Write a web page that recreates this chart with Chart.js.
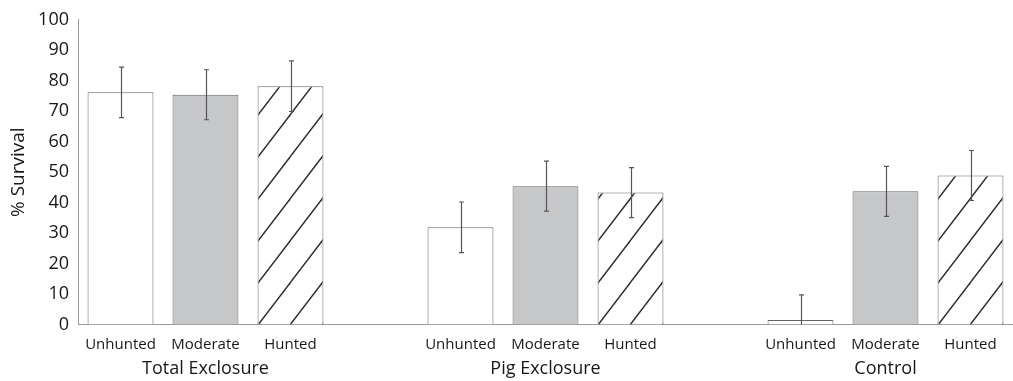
<!DOCTYPE html>
<html><head><meta charset="utf-8">
<script src="https://cdn.jsdelivr.net/npm/chart.js@4.4.0/dist/chart.umd.min.js"></script>
<style>html,body{margin:0;padding:0;background:#fff;overflow:hidden}</style>
</head><body>
<canvas id="c" width="1013" height="381"></canvas>
<script>
// ---- data ----
const categories = ['Unhunted','Moderate','Hunted','','Unhunted','Moderate','Hunted','','Unhunted','Moderate','Hunted'];
const groupLabels = ['','Total Exclosure','','','','Pig Exclosure','','','','Control',''];
const treatments = ['unhunted','moderate','hunted',null,'unhunted','moderate','hunted',null,'unhunted','moderate','hunted'];
const survival = [76.2, 75.4, 78.2, null, 31.9, 45.4, 43.3, null, 1.5, 43.7, 48.9];
const errors   = [8.3, 8.2, 8.3, null, 8.3, 8.2, 8.2, null, 8.2, 8.2, 8.2];
const yTicks = [0,10,20,30,40,50,60,70,80,90,100];

// ---- styles ----
const TEXT = '#1a1718';
const AXIS = '#9a9a9a';
const EDGE = '#666666';
const BAR_PCT = 0.775;
const HW = 32, HH = 42;
const hatchTile = (() => {
  const c = document.createElement('canvas');
  c.width = HW; c.height = HH;
  const g = c.getContext('2d');
  g.fillStyle = '#ffffff'; g.fillRect(0,0,HW,HH);
  g.strokeStyle = '#2a2a2a'; g.lineWidth = 1.4;
  for (const dx of [-HW, 0, HW]) {
    g.beginPath(); g.moveTo(dx - 1, HH + HH/HW); g.lineTo(dx + HW + 1, -HH/HW); g.stroke();
  }
  return c;
})();
function hatchFor(ctx){
  const chart = ctx.chart, xs = chart.scales.x, ys = chart.scales.y;
  const p = chart.ctx.createPattern(hatchTile, 'repeat');
  if (xs && ys && xs.right > xs.left) {
    const slot = (xs.right - xs.left) / categories.length;
    const left = Math.round(xs.getPixelForValue(ctx.dataIndex) - slot * BAR_PCT / 2);
    const bottom = Math.round(ys.getPixelForValue(0));
    p.setTransform(new DOMMatrix().translate(left, bottom));
  }
  return p;
}
const fills = {unhunted:'#ffffff', moderate:'#c6c7c9'};

Chart.defaults.font.family = "'Open Sans', sans-serif";
Chart.defaults.color = TEXT;

const errorBars = {
  id:'errorBars',
  afterDatasetsDraw(chart){
    const ctx = chart.ctx, y = chart.scales.y;
    const meta = chart.getDatasetMeta(0);
    ctx.save();
    ctx.strokeStyle = '#555555'; ctx.lineWidth = 1.2;
    survival.forEach((v,i)=>{
      if (v == null) return;
      const x = Math.round(meta.data[i].x) + 0.5;
      const yt = y.getPixelForValue(v + errors[i]);
      const yb = y.getPixelForValue(Math.max(0, v - errors[i]));
      ctx.beginPath();
      ctx.moveTo(x, yt); ctx.lineTo(x, yb);
      ctx.moveTo(x-2.5, yt); ctx.lineTo(x+2.5, yt);
      if (v - errors[i] > 0) { ctx.moveTo(x-2.5, yb); ctx.lineTo(x+2.5, yb); }
      ctx.stroke();
    });
    ctx.restore();
  }
};

new Chart(document.getElementById('c'), {
  type:'bar',
  data:{
    labels: categories,
    datasets:[{
      data: survival,
      backgroundColor: (ctx) => {
        const t = treatments[ctx.dataIndex];
        if (!t) return 'transparent';
        return t === 'hunted' ? hatchFor(ctx) : fills[t];
      },
      borderColor: EDGE,
      borderWidth: 1,
      barPercentage: BAR_PCT,
      categoryPercentage: 1
    }]
  },
  options:{
    responsive:false,
    animation:false,
    devicePixelRatio:1,
    layout:{padding:{top:16, left:0, right:-3, bottom:0}},
    plugins:{legend:{display:false}, tooltip:{enabled:false}},
    scales:{
      x:{
        position:'bottom', weight:1,
        grid:{display:false, drawTicks:false},
        border:{display:true, color:AXIS, width:1},
        ticks:{autoSkip:false, maxRotation:0, padding:11, font:{size:15}, color:TEXT},
        afterFit(s){ s.height = 30; }
      },
      x2:{
        type:'category', labels: groupLabels,
        position:'bottom', weight:2,
        grid:{display:false, drawTicks:false},
        border:{display:false},
        ticks:{autoSkip:false, maxRotation:0, padding:4, font:{size:18}, color:TEXT},
        afterFit(s){ s.height = 26.5; }
      },
      y:{
        min:0, max:100,
        grid:{display:false, drawTicks:false},
        border:{display:true, color:AXIS, width:1},
        afterBuildTicks(s){ s.ticks = yTicks.map(v => ({value:v})); },
        ticks:{padding:9, font:{size:18}, color:TEXT},
        title:{display:true, text:'% Survival', font:{size:19}, color:TEXT, padding:{top:7.5, bottom:0}},
        afterFit(s){ s.width = 78; }
      }
    }
  },
  plugins:[errorBars]
});
</script>
</body></html>
